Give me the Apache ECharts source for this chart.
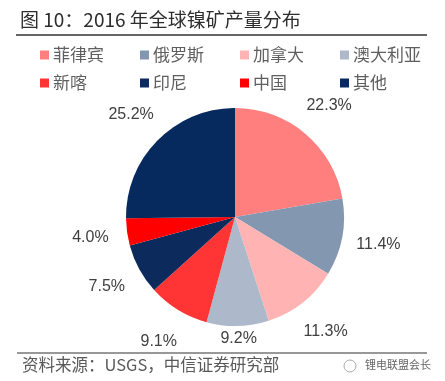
<!DOCTYPE html>
<html><head><meta charset="utf-8">
<script src="https://cdn.jsdelivr.net/npm/echarts@6/dist/echarts.min.js"></script>
<style>html,body{margin:0;padding:0;background:#fff}#c{width:445px;height:381px}</style>
</head><body><div id="c"></div>
<script>
const categories = ['菲律宾','俄罗斯','加拿大','澳大利亚','新喀','印尼','中国','其他'];
const values = [22.3, 11.4, 11.3, 9.2, 9.1, 7.5, 4.0, 25.2];
const colors = ['#FF7F7F','#8497B0','#FFB3B3','#ADB9CA','#FF3535','#0C2B5C','#FF0000','#062A5E'];
const titleText = '图 10：2016 年全球镍矿产量分布';
const sourceText = '资料来源：USGS，中信证券研究部';
const watermark = '锂电联盟会长';

const cjk = '"Noto Sans CJK SC", "Noto Sans", sans-serif';
const data = categories.map((n,i)=>({name:n, value:values[i], itemStyle:{color:colors[i]}}));
const labelData = categories.map((n,i)=>{
  const d = {name:n, value:values[i]};
  if (n === '澳大利亚') d.label = {offset:[0,-24]};
  return d;
});
const chart = echarts.init(document.getElementById('c'), null, {renderer:'canvas'});
chart.setOption({
  backgroundColor:'#fff',
  animation:false,
  color: colors,
  legend:{
    data: categories,
    left: 35, top: 39, width: 410,
    itemWidth: 9, itemHeight: 9, itemGap: 6,
    icon:'rect',
    selectedMode:false,
    textStyle:{fontFamily:cjk, fontSize:17, color:'#5f5f5f', width:81, lineHeight:22, padding:[0,0,0,-1]}
  },
  graphic:[
    {type:'text', left:20, top:10, style:{text:titleText, font:'19px '+cjk, fill:'#2e2e2e'}},
    {type:'line', shape:{x1:16,y1:35,x2:427,y2:35}, style:{stroke:'#333', lineWidth:1.5}},
    {type:'line', shape:{x1:17,y1:353,x2:427,y2:353}, style:{stroke:'#333', lineWidth:1.2}},
    {type:'text', left:22, top:356, style:{text:sourceText, font:'16.5px '+cjk, fill:'#595959'}},
    {type:'circle', shape:{cx:350, cy:366, r:6}, style:{fill:'none', stroke:'#aaa', lineWidth:1}},
    {type:'text', left:365, top:359, style:{text:watermark, font:'11px '+cjk, fill:'#666'}}
  ],
  series:[
    {
      type:'pie', center:[235,217], radius:[0,109], startAngle:90, clockwise:true,
      label:{show:false}, labelLine:{show:false}, silent:true,
      itemStyle:{borderWidth:0},
      data: data
    },
    {
      type:'pie', center:[235,217], radius:[114,172], startAngle:90, clockwise:true,
      silent:true,
      itemStyle:{color:'rgba(0,0,0,0)'},
      label:{show:true, position:'inside', formatter:p=>p.value.toFixed(1)+'%',
        fontFamily:'"Liberation Sans", Arial, sans-serif', fontSize:16, color:'#404040'},
      labelLine:{show:false},
      data: labelData
    }
  ]
});
</script></body></html>
